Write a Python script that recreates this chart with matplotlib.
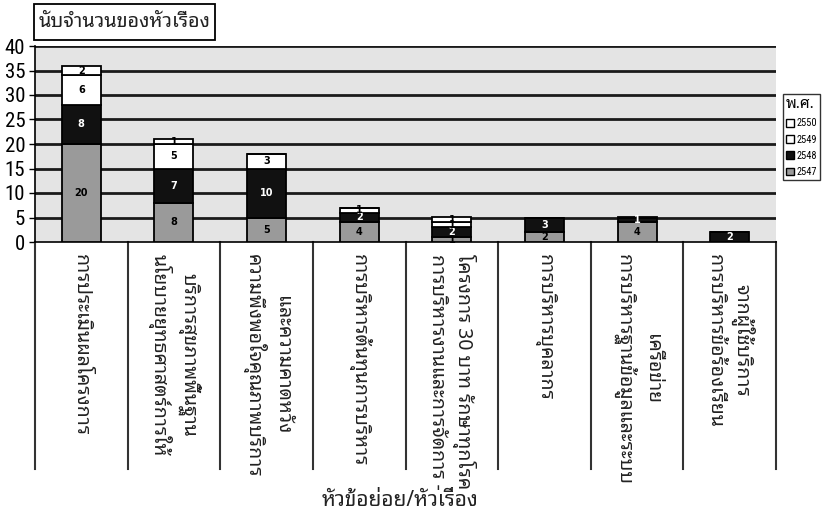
import matplotlib
matplotlib.use("Agg")
import matplotlib.pyplot as plt
from matplotlib import font_manager as fm
from matplotlib.patches import Patch, Rectangle
import matplotlib.transforms as mtransforms
import numpy as np

# ---------------- data ----------------
categories = [
    "การประเมินผลโครงการ",
    "บริการสุขภาพพื้นฐาน\nนโยบายยุทธศาสตร์การให้",
    "และความคาดหวัง\nความพึงพอใจคุณภาพบริการ",
    "การบริหารต้นทุนการบริหาร",
    "โครงการ 30 บาท รักษาทุกโรค\nการบริหารงานและการจัดการ -",
    "การบริหารบุคลากร",
    "เครือข่าย\nการบริหารฐานข้อมูลและระบบ",
    "จากผู้ใช้บริการ\nการบริหารข้อร้องเรียน",
]
years = ["2547", "2548", "2549", "2550"]
v2547 = [20, 8, 5, 4, 1, 2, 4, 0]
v2548 = [8, 7, 10, 2, 2, 3, 1, 2]
v2549 = [6, 5, 3, 1, 1, 0, 0, 0]
v2550 = [2, 1, 0, 0, 1, 0, 0, 0]
yticks = [0, 5, 10, 15, 20, 25, 30, 35, 40]
title = "นับจำนวนของหัวเรื่อง"
xlabel = "หัวข้อย่อย/หัวเรื่อง"
legend_title = "พ.ศ."

names = set(f.name for f in fm.fontManager.ttflist)
thai = "Noto Sans Thai Looped" if "Noto Sans Thai Looped" in names else "Noto Sans Thai"
narrow = "DejaVu Sans"
for cand in ["Liberation Sans Narrow", "Roboto Condensed", "Archivo Narrow",
             "PT Sans Narrow", "Open Sans Condensed", "Sofia Sans Condensed",
             "Fira Sans Condensed", "IBM Plex Sans Condensed", "DejaVu Sans Condensed"]:
    if cand in names:
        narrow = cand
        break
plt.rcParams["font.family"] = [thai, "DejaVu Sans"]

colors = ["#9a9a9a", "#111111", "#ffffff", "#ffffff"]
series = [v2547, v2548, v2549, v2550]
txtcol = ["black", "white", "black", "black"]

fig = plt.figure(figsize=(8.24, 5.15), dpi=100)
ax = fig.add_axes([35 / 824, 1 - 242 / 515, (776 - 35) / 824, (242 - 46) / 515])
ax.set_facecolor("#e4e4e4")

x = np.arange(len(categories))
bottom = np.zeros(len(categories))
for s, c, tc in zip(series, colors, txtcol):
    vals = np.array(s, dtype=float)
    ax.bar(x, vals, 0.42, bottom=bottom, color=c, edgecolor="black",
           linewidth=1.3, zorder=3)
    for xi, b, v in zip(x, bottom, vals):
        if v > 0:
            ax.text(xi, b + v / 2, f"{int(v)}", ha="center", va="center",
                    fontsize=7, fontweight="bold", color=tc, zorder=4,
                    family=["DejaVu Sans"])
    bottom = bottom + vals

ax.set_ylim(0, 40)
ax.set_xlim(-0.5, len(categories) - 0.5)
ax.set_yticks(yticks)
ax.set_yticklabels([str(t) for t in yticks], family=[narrow], fontsize=15)
ax.tick_params(axis="y", length=4, width=1, pad=3)
ax.tick_params(axis="x", length=0, labelbottom=False)
for t in yticks[1:]:
    ax.axhline(t, color="#1a1a1a", linewidth=2, zorder=1)
for sp in ["top", "right"]:
    ax.spines[sp].set_visible(False)
ax.spines["left"].set_linewidth(1.2)
ax.spines["bottom"].set_linewidth(1.2)

# category separators and labels below the axis
trans = mtransforms.blended_transform_factory(ax.transData, ax.transAxes)
for b in np.arange(-0.5, len(categories), 1.0):
    ax.plot([b, b], [0, -1.16], transform=trans, color="#333333",
            linewidth=1.5, clip_on=False, zorder=2)
for xi, lab in zip(x, categories):
    ax.text(xi, -0.06, lab, transform=trans, rotation=-90, ha="center",
            va="top", fontsize=14, color="#222222",
            multialignment="center", linespacing=1.35)

fig.text(400 / 824, 1 - 500 / 515, xlabel, ha="center", va="center",
         fontsize=15, color="#222222")

# title box
fig.patches.append(Rectangle((34 / 824, 1 - 40 / 515), 181 / 824, 36 / 515,
                             transform=fig.transFigure, facecolor="white",
                             edgecolor="black", linewidth=1.3, zorder=5))
fig.text(125 / 824, 1 - 22 / 515, title, ha="center", va="center", fontsize=14.3,
         color="#222222", zorder=6)

# legend
handles = [Patch(facecolor=colors[i], edgecolor="black", label=years[i])
           for i in [3, 2, 1, 0]]
leg = fig.legend(handles=handles, title=legend_title, loc="upper left",
                 bbox_to_anchor=(783 / 824, 1 - 94 / 515),
                 prop=fm.FontProperties(family=[narrow], size=7.5),
                 title_fontsize=11, frameon=True, fancybox=False,
                 edgecolor="black", handlelength=0.8, handleheight=0.8,
                 handletextpad=0.2, borderpad=0.3, labelspacing=0.6,
                 borderaxespad=0)
leg.get_title().set_family([thai, "DejaVu Sans"])
leg.get_frame().set_linewidth(1.0)
leg._legend_box.align = "left"

fig.savefig("out.png", dpi=100)
